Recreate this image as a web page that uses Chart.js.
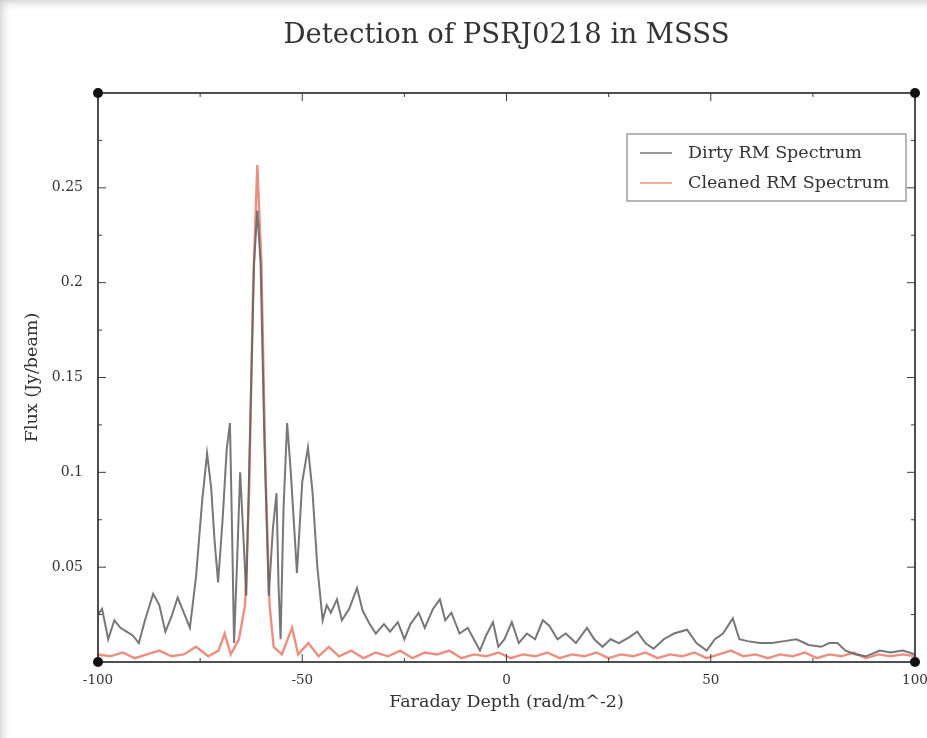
<!DOCTYPE html>
<html>
<head>
<meta charset="utf-8">
<title>Detection of PSRJ0218 in MSSS</title>
<script src="https://cdn.jsdelivr.net/npm/chart.js@4.4.1/dist/chart.umd.min.js"></script>
<style>
  html, body { margin: 0; padding: 0; background: #fff; }
  #wrap { width: 927px; height: 738px; position: relative; box-shadow: inset 6px 6px 8px -4px #ccc; }
  canvas { position: absolute; left: 0; top: 0; }
</style>
</head>
<body>
<div id="wrap"><canvas id="rmChart" width="927" height="738"></canvas></div>
<script>
// Faraday depth (rad/m^-2) and flux (Jy/beam)
var dirtyPhi = [-100, -99, -97.5, -96, -94.5, -93, -91.5, -90, -88.5, -86.5, -85, -83.5, -82, -80.5, -79, -77.5,
  -76, -74.5, -73.3, -72.3, -71.5, -70.6, -69.5, -68.5, -67.7, -67.1, -66.7, -66, -65.2, -64.5, -63.7, -62.8,
  -61.8, -61, -60.2, -59.3, -58.2, -57.2, -56.3, -55.8, -55.3, -54.6, -53.7, -52.8, -51.3, -50, -48.6, -47.5,
  -46.3, -45, -44, -43, -41.5, -40.3, -38.5, -36.6, -35.2, -33.5, -32, -30, -28.5, -26.6, -25, -23.5, -21.5,
  -20, -18, -16.3, -15, -13.5, -11.5, -9.5, -7.5, -6.5, -5, -3.3, -2, -0.5, 1.3, 3, 5, 7, 8.9, 10.5, 12.5,
  14.5, 17, 19.7, 21.5, 23.5, 25.5, 27.5, 30, 32, 34, 36, 38.5, 41, 44.2, 46.5, 49, 51, 53, 55.4, 57, 59, 62,
  65, 68, 71, 74, 77, 79, 81, 83, 85.5, 88, 91.4, 94, 97, 100];
var dirtyFlux = [0.025, 0.028, 0.012, 0.022, 0.018, 0.016, 0.014, 0.010, 0.022, 0.036, 0.030, 0.016, 0.024, 0.034, 0.026, 0.018,
  0.045, 0.085, 0.110, 0.092, 0.065, 0.042, 0.075, 0.112, 0.126, 0.060, 0.010, 0.050, 0.100, 0.070, 0.035, 0.120,
  0.210, 0.238, 0.210, 0.120, 0.035, 0.070, 0.089, 0.040, 0.012, 0.080, 0.126, 0.100, 0.047, 0.095, 0.113, 0.090,
  0.050, 0.022, 0.030, 0.026, 0.033, 0.022, 0.028, 0.039, 0.027, 0.020, 0.015, 0.020, 0.016, 0.021, 0.012, 0.020, 0.026,
  0.018, 0.028, 0.033, 0.022, 0.026, 0.015, 0.018, 0.010, 0.006, 0.014, 0.021, 0.008, 0.012, 0.021, 0.010, 0.015, 0.012, 0.022, 0.019, 0.012,
  0.015, 0.010, 0.018, 0.012, 0.008, 0.012, 0.010, 0.013, 0.016, 0.010, 0.007, 0.012, 0.015, 0.017, 0.010, 0.006, 0.012, 0.015, 0.023, 0.012, 0.011, 0.010,
  0.010, 0.011, 0.012, 0.009, 0.008, 0.010, 0.010, 0.006, 0.004, 0.003, 0.006, 0.005, 0.006, 0.004];

var cleanPhi = [-100, -97, -94, -91, -88, -85, -82, -79, -76, -73, -70.5, -69, -67.5, -65.5, -64, -63, -62, -61, -60,
  -59, -58, -57, -55, -52.5, -51, -48.5, -46, -43.5, -41, -38, -35, -32, -29, -26, -23, -20, -17, -14, -11, -8, -5,
  -2, 1, 4, 7, 10, 13, 16, 19, 22, 25, 28, 31, 34, 37, 40, 43, 46, 49, 52, 55, 58, 61, 64, 67, 70, 73, 76, 79, 82,
  85, 88, 91, 94, 97, 100];
var cleanFlux = [0.004, 0.003, 0.005, 0.002, 0.004, 0.006, 0.003, 0.004, 0.008, 0.003, 0.006, 0.015, 0.004, 0.012, 0.030, 0.090, 0.200, 0.262, 0.210,
  0.100, 0.030, 0.008, 0.004, 0.018, 0.004, 0.010, 0.003, 0.008, 0.003, 0.006, 0.002, 0.005, 0.003, 0.006, 0.002, 0.005, 0.004, 0.006, 0.002, 0.004, 0.003,
  0.005, 0.002, 0.004, 0.003, 0.005, 0.002, 0.004, 0.003, 0.005, 0.002, 0.004, 0.003, 0.005, 0.002, 0.004, 0.003, 0.005, 0.002, 0.004, 0.006, 0.003, 0.004, 0.002, 0.004, 0.003, 0.005, 0.002, 0.004, 0.003,
  0.005, 0.002, 0.004, 0.003, 0.004, 0.003];

var seriesNames = ["Dirty RM Spectrum", "Cleaned RM Spectrum"];
var xTicks = [-100, -50, 0, 50, 100];
var yTicks = [0.05, 0.1, 0.15, 0.2, 0.25];

var serif = "'DejaVu Serif', 'Liberation Serif', serif";
var frameColor = "#3c3c3c";

function toPoints(xs, ys) {
  return xs.map(function (x, i) { return { x: x, y: ys[i] }; });
}

// frame, inward ticks on all four sides, corner dots and the boxed legend
var framePlugin = {
  id: "frame",
  afterDatasetsDraw: function (chart) {
    var ctx = chart.ctx;
    var a = chart.chartArea;
    var xs = chart.scales.x, ys = chart.scales.y;
    ctx.save();
    ctx.strokeStyle = frameColor;
    ctx.lineWidth = 1.8;
    ctx.strokeRect(a.left, a.top, a.right - a.left, a.bottom - a.top);

    ctx.lineWidth = 1;
    for (var v = -100; v <= 100; v += 25) {
      var px = xs.getPixelForValue(v);
      var len = (v % 50 === 0) ? 8 : 4;
      ctx.beginPath();
      ctx.moveTo(px, a.bottom); ctx.lineTo(px, a.bottom - len);
      ctx.moveTo(px, a.top); ctx.lineTo(px, a.top + len);
      ctx.stroke();
    }
    for (var k = 1; k < 12; k++) {
      var val = k * 0.025;
      var py = ys.getPixelForValue(val);
      var l = (k % 2 === 0) ? 8 : 4;
      ctx.beginPath();
      ctx.moveTo(a.left, py); ctx.lineTo(a.left + l, py);
      ctx.moveTo(a.right, py); ctx.lineTo(a.right - l, py);
      ctx.stroke();
    }

    ctx.fillStyle = "#111";
    [[a.left, a.top], [a.right, a.top], [a.left, a.bottom], [a.right, a.bottom]].forEach(function (c) {
      ctx.beginPath();
      ctx.arc(c[0], c[1], 5, 0, Math.PI * 2);
      ctx.fill();
    });

    // legend box
    var bx = a.right - 288, by = a.top + 41, bw = 279, bh = 67;
    ctx.fillStyle = "#fff";
    ctx.fillRect(bx, by, bw, bh);
    ctx.strokeStyle = "#888";
    ctx.lineWidth = 1.2;
    ctx.strokeRect(bx, by, bw, bh);
    ctx.font = "17.5px " + serif;
    ctx.textBaseline = "middle";
    chart.data.datasets.forEach(function (ds, i) {
      var ly = by + 19 + i * 30;
      ctx.strokeStyle = ds.borderColor;
      ctx.lineWidth = 1.5;
      ctx.beginPath();
      ctx.moveTo(bx + 13, ly); ctx.lineTo(bx + 45, ly);
      ctx.stroke();
      ctx.fillStyle = "#333";
      ctx.fillText(ds.label, bx + 61, ly);
    });
    ctx.restore();
  }
};

var ctx = document.getElementById("rmChart");
var myChart = new Chart(ctx, {
  type: "line",
  data: {
    datasets: [
      {
        label: seriesNames[0],
        data: toPoints(dirtyPhi, dirtyFlux),
        borderColor: "rgba(95,95,95,0.85)",
        borderWidth: 2,
        pointRadius: 0,
        tension: 0
      },
      {
        label: seriesNames[1],
        data: toPoints(cleanPhi, cleanFlux),
        borderColor: "rgba(228,105,85,0.75)",
        borderWidth: 2.4,
        pointRadius: 0,
        tension: 0
      }
    ]
  },
  options: {
    responsive: false,
    animation: false,
    layout: { padding: { left: 0, right: 12, top: 0, bottom: 0 } },
    plugins: {
      legend: { display: false },
      tooltip: { enabled: false },
      title: {
        display: true,
        fullSize: false,
        text: "Detection of PSRJ0218 in MSSS",
        color: "#333",
        font: { family: serif, size: 27.5, weight: "normal" },
        padding: { top: 19, bottom: 41 }
      }
    },
    scales: {
      x: {
        type: "linear",
        min: -100,
        max: 100,
        afterBuildTicks: function (s) { s.ticks = xTicks.map(function (v) { return { value: v }; }); },
        afterFit: function (s) { s.height = 76; s.paddingLeft = 0; s.paddingRight = 0; },
        grid: { display: false },
        border: { display: false },
        ticks: {
          color: "#333",
          padding: 2,
          maxRotation: 0,
          font: { family: serif, size: 13.5 },
          callback: function (v) { return String(v); }
        },
        title: {
          display: true,
          text: "Faraday Depth (rad/m^-2)",
          color: "#333",
          font: { family: serif, size: 17.5 },
          padding: { top: 0, bottom: 25 }
        }
      },
      y: {
        type: "linear",
        min: 0,
        max: 0.3,
        afterBuildTicks: function (s) { s.ticks = yTicks.map(function (v) { return { value: v }; }); },
        afterFit: function (s) { s.width = 98; },
        grid: { display: false },
        border: { display: false },
        ticks: {
          color: "#333",
          padding: 7,
          font: { family: serif, size: 14 },
          callback: function (v) { return String(Math.round(v * 100) / 100); }
        },
        title: {
          display: true,
          text: "Flux (Jy/beam)",
          color: "#333",
          font: { family: serif, size: 17.5 },
          padding: { top: 22, bottom: 0 }
        }
      }
    }
  },
  plugins: [framePlugin]
});
</script>
</body>
</html>
